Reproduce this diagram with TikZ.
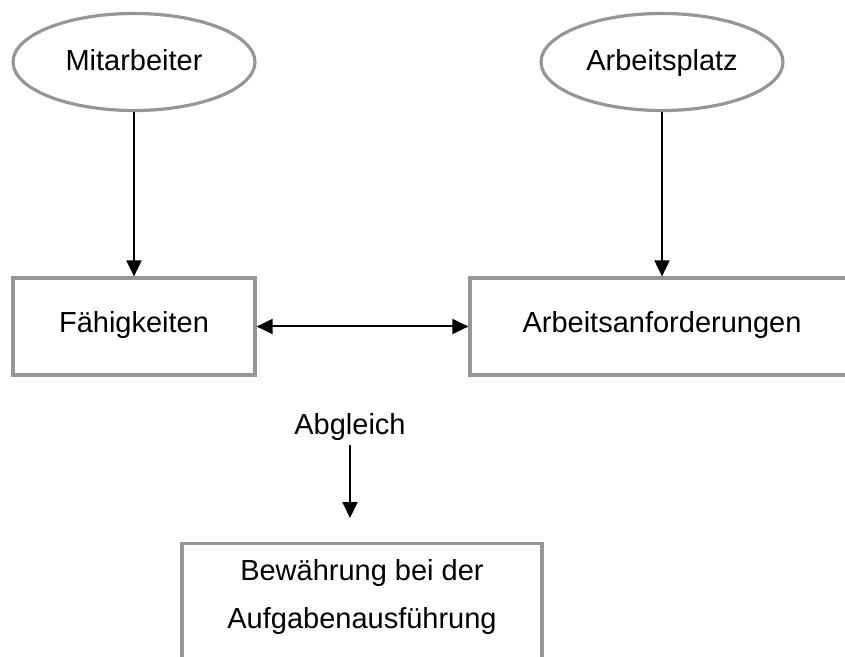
\documentclass[tikz,border=0pt]{standalone}
\usepackage{fontspec}
\setmainfont{Liberation Sans}
\usetikzlibrary{arrows.meta, shapes.geometric, positioning}
\definecolor{rahmen}{RGB}{150,150,150}

\begin{document}
\begin{tikzpicture}[x=0.5pt, y=-0.5pt, >={Triangle[length=8pt, width=7.5pt]},
    font=\fontsize{14.5}{24}\selectfont,
    oval/.style={draw=rahmen, line width=1.6pt, ellipse, minimum width=121pt, minimum height=48.5pt, inner sep=0pt, text height=10.5pt, text depth=1.5pt},
    kasten/.style={draw=rahmen, line width=1.6pt, rectangle, minimum height=48.5pt, inner sep=0pt},
    pfeil/.style={line width=1pt}]
        \useasboundingbox (0,0) rectangle (845,657);
        \clip (0,0) rectangle (845,657);
        \node[oval] (mitarb) at (134,62) {Mitarbeiter};
        \node[oval] (platz) at (662,62) {Arbeitsplatz};
        \node[kasten, minimum width=121pt, text height=10.5pt, text depth=4.7pt] (faehig) at (134,326.5) {Fähigkeiten};
        \node[kasten, minimum width=192pt, text height=10.5pt, text depth=4.7pt] (anford) at (662,326.5) {Arbeitsanforderungen};
        \node[inner sep=2pt] (abgl) at (350,427) {Abgleich};
        \coordinate (ziel) at (350,518);
        \node[kasten, anchor=north, minimum width=180pt, align=center, inner ysep=8pt] (bewaehr) at (362,542) {Bewährung bei der\\Aufgabenausführung\\ \mbox{}};
        \foreach \von/\nach in
        {mitarb/faehig, platz/anford} \draw[pfeil, ->] (\von) -- (\nach);
        \draw[pfeil, <->] (faehig) -- (anford);
        \draw[pfeil, ->] (abgl) -- (ziel);
\end{tikzpicture}
\end{document}
